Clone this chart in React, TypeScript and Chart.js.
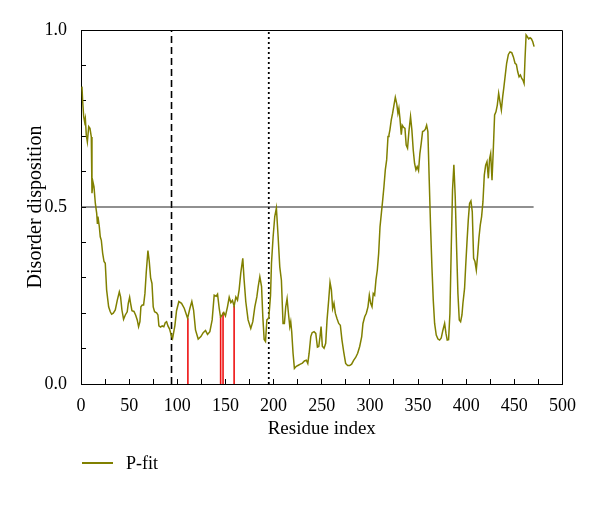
import { useEffect, useRef } from 'react';
import { Chart, registerables } from 'chart.js';

Chart.register(...registerables);

const FONT = '"Liberation Serif", "DejaVu Serif", serif';

const residues = [
  1, 1.7, 2.8, 3.8, 4.5, 5.5, 6.6, 8, 9.3, 10.7, 11.4, 12.4, 13.5, 14.9, 16.3, 17, 17.6, 19, 20, 21.1,
  22.5, 23.9, 25.2, 26.6, 28.7, 30.4, 31.8, 33.5, 35.6, 37.7, 39.8, 41.1, 42.5, 44.2, 46, 48, 49.1, 50.5, 51.5, 52.9,
  55, 56.7, 58.4, 59.8, 61.2, 62.2, 63.6, 65, 66.4, 67.8, 69.5, 70.9, 72.3, 73.7, 75, 76.4, 78.5, 79.9, 80.9, 82.6,
  84.4, 86, 87.5, 88.9, 90.3, 92, 93.7, 95.1, 97.5, 99.2, 101.6, 104.4, 107.2, 110.7, 113.1, 115.1, 116.9, 118.9, 121.7, 124.5,
  126.9, 129.3, 131.4, 133.8, 136.2, 138.3, 140.4, 141.8, 143.5, 144.9, 146.6, 148.3, 150, 152.1, 153.9, 155.6, 157.3, 159, 160.8, 162.5,
  164.2, 165.9, 168, 169.3, 171.1, 173.5, 176.3, 178.4, 180.5, 182.6, 184, 185.7, 187.5, 188.8, 190.2, 191.6, 193, 195, 196.8, 197.8,
  199.5, 201.2, 202.9, 204.7, 206.4, 208.1, 209.8, 211.2, 212.6, 214, 215.4, 216.8, 217.8, 218.8, 220.2, 221.6, 223.6, 225.7, 227.8, 229.9,
  232, 234, 235.5, 236.9, 238.6, 240, 242, 243.8, 245.5, 246.9, 248.2, 249.3, 250.6, 252.4, 254.1, 255.5, 257.2, 258.6, 260, 261.3,
  262.7, 264.1, 265.8, 267.6, 269.3, 271, 272.8, 274.8, 276.9, 279, 281, 283.1, 285.2, 287.3, 289.4, 291.5, 292.8, 294.6, 296.3, 298,
  299.4, 300.8, 302.2, 303.5, 304.9, 306.3, 307.7, 309.1, 310.5, 311.9, 313.3, 314.6, 316, 317.4, 318.8, 319.8, 320.8, 322.2, 323.6, 325,
  326.4, 327.8, 329.1, 330.1, 331.2, 332.6, 333.6, 335, 336.4, 337.7, 339.1, 340.5, 342.2, 343.6, 345, 346.4, 347.8, 349.1, 350.5, 351.9,
  353.3, 354.7, 356.1, 357.5, 358.9, 360.2, 361.6, 363, 364.4, 365.8, 367.2, 368.9, 370.7, 372.4, 374.1, 375.8, 377.6, 379, 380.3, 381.7,
  383.1, 384.5, 385.8, 387.2, 388.6, 390, 391.4, 392.8, 394.2, 395.6, 396.6, 398.3, 399.4, 400.8, 402.2, 403.5, 404.9, 406.3, 407.7, 409.1,
  410.5, 411.9, 413.2, 414.6, 416, 417.4, 418.8, 420.2, 421.6, 423, 424.3, 425.4, 426.8, 428.2, 429.5, 430.9, 432.3, 433.7, 435.1, 436.5,
  437.9, 439.2, 440.6, 442, 443.8, 445.5, 447.3, 449, 450.7, 452.1, 453.5, 454.9, 456.3, 457.7, 459, 460.1, 461.1, 462.2, 463.5, 464.9,
  466.3, 467.7, 469.1, 470.5,
];

const pfit = [
  0.84, 0.8, 0.755, 0.74, 0.75, 0.703, 0.684, 0.727, 0.722, 0.698, 0.539, 0.571, 0.557, 0.51, 0.482, 0.454, 0.473, 0.445, 0.416, 0.406,
  0.369, 0.346, 0.341, 0.266, 0.218, 0.204, 0.197, 0.2, 0.209, 0.237, 0.26, 0.246, 0.209, 0.183, 0.195, 0.204, 0.228, 0.245, 0.228, 0.207,
  0.205, 0.195, 0.181, 0.162, 0.176, 0.218, 0.223, 0.223, 0.256, 0.317, 0.377, 0.346, 0.3, 0.284, 0.218, 0.204, 0.201, 0.195, 0.164, 0.161,
  0.164, 0.162, 0.173, 0.176, 0.164, 0.155, 0.138, 0.129, 0.165, 0.207, 0.233, 0.228, 0.214, 0.186, 0.214, 0.233, 0.209, 0.153, 0.127, 0.134,
  0.145, 0.151, 0.14, 0.148, 0.181, 0.251, 0.248, 0.254, 0.214, 0.189, 0.195, 0.202, 0.192, 0.218, 0.245, 0.23, 0.236, 0.22, 0.246, 0.237,
  0.266, 0.313, 0.355, 0.297, 0.233, 0.181, 0.157, 0.176, 0.218, 0.246, 0.275, 0.303, 0.275, 0.19, 0.126, 0.12, 0.181, 0.186, 0.25, 0.341,
  0.416, 0.473, 0.497, 0.416, 0.331, 0.293, 0.171, 0.171, 0.218, 0.241, 0.2, 0.162, 0.176, 0.148, 0.087, 0.044, 0.05, 0.053, 0.056, 0.059,
  0.065, 0.067, 0.058, 0.087, 0.134, 0.145, 0.148, 0.143, 0.104, 0.106, 0.134, 0.162, 0.107, 0.101, 0.115, 0.181, 0.237, 0.287, 0.266, 0.213,
  0.228, 0.2, 0.185, 0.171, 0.166, 0.124, 0.091, 0.058, 0.052, 0.052, 0.056, 0.067, 0.075, 0.087, 0.106, 0.134, 0.171, 0.19, 0.2, 0.218,
  0.251, 0.228, 0.218, 0.256, 0.251, 0.294, 0.322, 0.369, 0.444, 0.482, 0.52, 0.558, 0.605, 0.633, 0.699, 0.704, 0.718, 0.746, 0.765, 0.788,
  0.81, 0.793, 0.765, 0.779, 0.75, 0.704, 0.731, 0.725, 0.722, 0.675, 0.666, 0.713, 0.755, 0.717, 0.661, 0.623, 0.605, 0.614, 0.603, 0.651,
  0.68, 0.713, 0.715, 0.719, 0.731, 0.713, 0.576, 0.444, 0.331, 0.237, 0.171, 0.138, 0.127, 0.124, 0.13, 0.152, 0.171, 0.143, 0.124, 0.125,
  0.2, 0.388, 0.548, 0.619, 0.529, 0.388, 0.256, 0.181, 0.176, 0.195, 0.228, 0.27, 0.33, 0.4, 0.465, 0.51, 0.517, 0.487, 0.355, 0.346,
  0.322, 0.365, 0.412, 0.449, 0.473, 0.515, 0.59, 0.618, 0.628, 0.581, 0.637, 0.651, 0.576, 0.666, 0.76, 0.769, 0.788, 0.821, 0.797, 0.774,
  0.812, 0.84, 0.873, 0.906, 0.931, 0.938, 0.936, 0.924, 0.906, 0.903, 0.882, 0.868, 0.873, 0.863, 0.858, 0.849, 0.92, 0.986, 0.981, 0.975,
  0.978, 0.975, 0.967, 0.953,
];

const thresholdValue = 0.5;
const thresholdSpan = [0, 470];
const dashedResidue = 94;
const dottedResidue = 195;
const redResidues = [111, 145, 147.5, 159];
const redValues = [0.186, 0.189, 0.202, 0.22];
const xTickLabels = [0, 50, 100, 150, 200, 250, 300, 350, 400, 450, 500];
const yTickLabels = [0, 0.5, 1];

const OLIVE = '#808000';

export default function App() {
  const ref = useRef<HTMLCanvasElement>(null);

  useEffect(() => {
    if (!ref.current) return;
    const framePlugin = {
      id: 'frame',
      afterDatasetsDraw(chart: any) {
        const { ctx, chartArea } = chart;
        const { left, top, right, bottom } = chartArea;
        ctx.save();
        ctx.strokeStyle = '#000';
        ctx.lineWidth = 1;
        ctx.beginPath();
        const t = Math.round(top) + 0.5;
        const r = Math.round(right) - 0.5;
        ctx.moveTo(left, t);
        ctx.lineTo(r, t);
        ctx.lineTo(r, bottom);
        ctx.stroke();
        ctx.restore();
      },
    };

    const redData: any[] = [];
    redResidues.forEach((x, i) => {
      redData.push({ x, y: 0 }, { x, y: redValues[i] }, { x, y: null });
    });

    const chart = new Chart(ref.current, {
      type: 'line',
      data: {
        datasets: [
          {
            label: 'P-fit',
            data: residues.map((x, i) => ({ x, y: pfit[i] })),
            borderColor: OLIVE,
            borderWidth: 1.5,
            pointRadius: 0,
            tension: 0,
          },
          {
            label: 'red',
            data: redData,
            borderColor: '#ee1111',
            borderWidth: 1.6,
            pointRadius: 0,
            spanGaps: false,
          },
          {
            label: 'threshold',
            data: thresholdSpan.map((x) => ({ x, y: thresholdValue })),
            borderColor: '#222',
            borderWidth: 1.2,
            pointRadius: 0,
          },
          {
            label: 'dashed',
            data: [{ x: dashedResidue, y: 0 }, { x: dashedResidue, y: 1 }],
            borderColor: '#000',
            borderWidth: 1.6,
            borderDash: [7, 4],
            pointRadius: 0,
          },
          {
            label: 'dotted',
            data: [{ x: dottedResidue, y: 0 }, { x: dottedResidue, y: 1 }],
            borderColor: '#000',
            borderWidth: 1.8,
            borderDash: [2, 3],
            pointRadius: 0,
          },
        ],
      },
      options: {
        animation: false,
        responsive: false,
        devicePixelRatio: 1,
        layout: { padding: { top: 22, right: 29, bottom: 58, left: 0 } },
        plugins: { legend: { display: false }, tooltip: { enabled: false } },
        scales: {
          x: {
            type: 'linear',
            min: 0,
            max: 500,
            offset: false,
            afterFit: (s: any) => {
              s.height = 56;
            },
            ticks: {
              stepSize: 25,
              autoSkip: false,
              maxRotation: 0,
              padding: 16,
              color: '#000',
              font: { family: FONT, size: 18 },
              callback: (v: any) => (xTickLabels.includes(Number(v)) ? String(v) : ''),
            },
            grid: { drawOnChartArea: false, drawTicks: true, tickLength: -5, color: '#000' },
            border: { display: true, color: '#000', width: 1 },
            title: {
              display: true,
              text: 'Residue index',
              color: '#000',
              font: { family: FONT, size: 19 },
              padding: 0,
            },
          },
          y: {
            type: 'linear',
            min: 0,
            max: 1,
            afterFit: (s: any) => {
              s.width = 73;
              s.paddingTop = 11;
              s.paddingBottom = 11;
            },
            ticks: {
              stepSize: 0.1,
              autoSkip: false,
              padding: 19,
              color: '#000',
              font: { family: FONT, size: 18 },
              callback: (v: any) =>
                yTickLabels.some((t) => Math.abs(t - Number(v)) < 1e-6) ? Number(v).toFixed(1) : '',
            },
            grid: { drawOnChartArea: false, drawTicks: true, tickLength: -5, color: '#000' },
            border: { display: true, color: '#000', width: 1 },
            title: {
              display: true,
              text: 'Disorder disposition',
              color: '#000',
              font: { family: FONT, size: 20 },
              padding: { top: 16, bottom: 0 },
            },
          },
        },
      },
      plugins: [framePlugin],
    } as any);

    return () => chart.destroy();
  }, []);

  return (
    <div style={{ position: 'relative', width: 584, height: 490 }}>
      <canvas ref={ref} width={584} height={490} style={{ display: 'block' }} />
      <div
        style={{
          position: 'absolute',
          left: 74,
          top: 445,
          height: 20,
          display: 'flex',
          alignItems: 'center',
          fontFamily: FONT,
          fontSize: 18,
          color: '#000',
          whiteSpace: 'nowrap',
        }}
      >
        <span
          style={{ display: 'inline-block', width: 31, height: 2, background: OLIVE, marginRight: 13 }}
        />
        <span>P-fit</span>
      </div>
    </div>
  );
}
